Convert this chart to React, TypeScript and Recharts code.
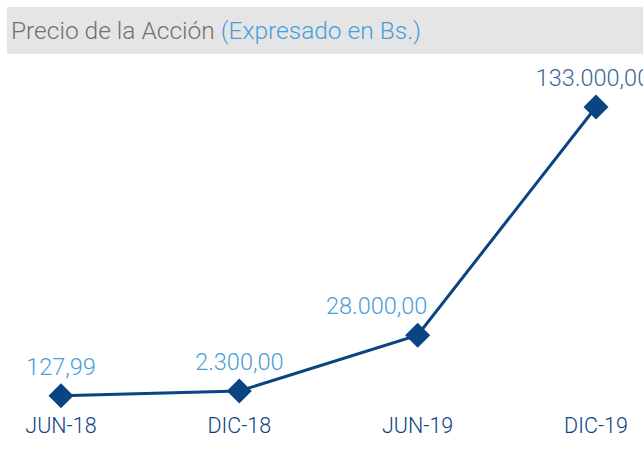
import { LineChart, Line, XAxis, YAxis, LabelList } from 'recharts'

const PERIODS = ['JUN-18', 'DIC-18', 'JUN-19', 'DIC-19']
const PRICES = [127.99, 2300, 28000, 133000]
const PRICE_LABELS = ['127,99', '2.300,00', '28.000,00', '133.000,00']

const LINE_COLOR = '#0b4482'
const LABEL_COLOR = '#4a9ddb'
const LAST_LABEL_COLOR = '#3a6797'
const LABEL_DX = [0, 0, -41, -3]
const FONT = 'Roboto, "Noto Sans", sans-serif'

const chartData = PERIODS.map((p, i) => ({ period: p, price: PRICES[i], label: PRICE_LABELS[i] }))

function Diamond(props: any) {
  const { cx, cy } = props
  if (cx == null || cy == null) return null
  const r = 12.5
  return (
    <polygon
      points={`${cx},${cy - r} ${cx + r},${cy} ${cx},${cy + r} ${cx - r},${cy}`}
      fill={LINE_COLOR}
    />
  )
}

function PeriodTick(props: any) {
  const { x, y, payload } = props
  return (
    <text
      x={x}
      y={y + 21}
      textAnchor="middle"
      dominantBaseline="central"
      fill={LINE_COLOR}
      fontSize={21.5}
      fontWeight={300}
      fontFamily={FONT}
    >
      {payload.value}
    </text>
  )
}

function PriceLabel(props: any) {
  const { x, y, index, value } = props
  const last = index === PRICE_LABELS.length - 1
  return (
    <text
      x={x + LABEL_DX[index]}
      y={y - 29}
      textAnchor="middle"
      dominantBaseline="central"
      fill={last ? LAST_LABEL_COLOR : LABEL_COLOR}
      fontSize={23.5}
      fontWeight={300}
      fontFamily={FONT}
    >
      {value}
    </text>
  )
}

export default function App() {
  return (
    <div style={{ position: 'absolute', left: 0, top: 0, width: 643, height: 450, background: '#fff', overflow: 'hidden' }}>
      <div
        style={{
          position: 'absolute',
          left: 7,
          top: 7,
          width: 636,
          height: 47,
          background: '#e5e5e5',
          fontFamily: FONT,
          fontWeight: 300,
          fontSize: 24.5,
          lineHeight: '47px',
          paddingLeft: 4,
          boxSizing: 'border-box',
          whiteSpace: 'nowrap',
        }}
      >
        <span style={{ color: '#707070' }}>Precio de la Acción </span>
        <span style={{ color: LABEL_COLOR }}>(Expresado en Bs.)</span>
      </div>
      <div style={{ position: 'absolute', left: 0, top: 0 }}>
        <LineChart width={643} height={450} data={chartData} margin={{ top: 107, right: 0, bottom: 0, left: 0 }}>
          <XAxis
            dataKey="period"
            axisLine={false}
            tickLine={false}
            height={54}
            padding={{ left: 61, right: 47 }}
            tick={<PeriodTick />}
            interval={0}
          />
          <YAxis hide domain={[0, 133000]} />
          <Line
            type="linear"
            dataKey="price"
            stroke={LINE_COLOR}
            strokeWidth={3}
            dot={<Diamond />}
            activeDot={false}
            isAnimationActive={false}
          >
            <LabelList dataKey="label" content={<PriceLabel />} />
          </Line>
        </LineChart>
      </div>
    </div>
  )
}
